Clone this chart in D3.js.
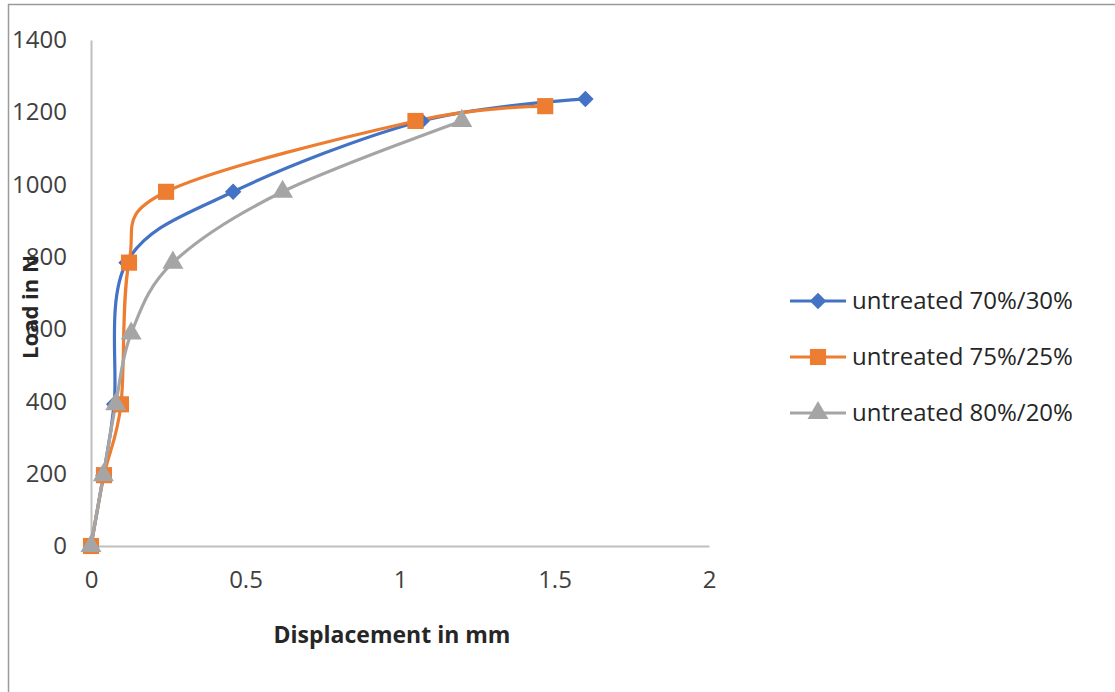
<!DOCTYPE html>
<meta charset="utf-8">
<script src="https://d3js.org/d3.v7.min.js"></script>
<style>
  body { margin: 0; background: #fff; }
  text { font-family: "Open Sans", "Noto Sans", sans-serif; }
</style>
<div id="my_dataviz"></div>
<script>

// series data (displacement in mm, load in N)
var names = ["untreated 70%/30%", "untreated 75%/25%", "untreated 80%/20%"];
var colors = ["#4472C4", "#ED7D31", "#A5A5A5"];
var shapes = [d3.symbolSquare, d3.symbolSquare, d3.symbolTriangle];
var rotations = [45, 0, 0];

var disp7030 = [0, 0.04, 0.075, 0.115, 0.46, 1.07, 1.6];
var load7030 = [0, 196, 392, 784, 980, 1176, 1237];

var disp7525 = [0, 0.042, 0.097, 0.123, 0.243, 1.05, 1.47];
var load7525 = [0, 196, 392, 784, 980, 1176, 1217];

var disp8020 = [0, 0.04, 0.08, 0.13, 0.265, 0.62, 1.2];
var load8020 = [0, 196, 392, 588, 784, 980, 1176];

var xTicks = [0, 0.5, 1, 1.5, 2];
var yTicks = [0, 200, 400, 600, 800, 1000, 1200, 1400];

var series = [
  {name: names[0], xs: disp7030, ys: load7030},
  {name: names[1], xs: disp7525, ys: load7525},
  {name: names[2], xs: disp8020, ys: load8020}
];

var W = 1115, H = 692;
var margin = {top: 40, left: 91},
    width = 618,
    height = 506;

var svg = d3.select("#my_dataviz")
  .append("svg")
    .attr("width", W)
    .attr("height", H);

// outer frame
svg.append("line").attr("x1", 8.5).attr("x2", 8.5).attr("y1", 4).attr("y2", H)
  .style("stroke", "#9a9a9a").style("stroke-width", 1.5);
svg.append("line").attr("x1", 8).attr("x2", W).attr("y1", 4.5).attr("y2", 4.5)
  .style("stroke", "#9a9a9a").style("stroke-width", 1.5);

var g = svg.append("g")
  .attr("transform", "translate(" + margin.left + "," + margin.top + ")");

var x = d3.scaleLinear().domain([0, 2]).range([0, width]);
var y = d3.scaleLinear().domain([0, 1400]).range([height, 0]);

// X axis
var xAxis = g.append("g")
  .attr("transform", "translate(0," + height + ")")
  .call(d3.axisBottom(x).tickValues(xTicks).tickSize(0).tickPadding(25)
    .tickFormat(function(d) { return String(d); }));
xAxis.select(".domain").style("stroke", "#bfbfbf").style("stroke-width", 2);
xAxis.selectAll("text").style("font-size", "24px").style("fill", "#404040")
  .style("font-family", "'Open Sans', sans-serif");

// Y axis
var yAxis = g.append("g")
  .call(d3.axisLeft(y).tickValues(yTicks).tickSize(0).tickPadding(24)
    .tickFormat(function(d) { return String(d); }));
yAxis.select(".domain").style("stroke", "#bfbfbf").style("stroke-width", 2);
yAxis.selectAll("text").style("font-size", "24px").style("fill", "#404040")
  .style("font-family", "'Open Sans', sans-serif");

// axis titles
svg.append("text")
  .attr("x", 392)
  .attr("y", 643)
  .attr("text-anchor", "middle")
  .style("font-size", "23px")
  .style("font-weight", "bold")
  .style("fill", "#262626")
  .text("Displacement in mm");

svg.append("text")
  .attr("transform", "translate(38,307) rotate(-90)")
  .attr("text-anchor", "middle")
  .style("font-size", "22px")
  .style("font-weight", "bold")
  .style("fill", "#262626")
  .text("Load in N");

// lines
var line = d3.line()
  .x(function(d) { return x(d[0]); })
  .y(function(d) { return y(d[1]); })
  .curve(d3.curveCatmullRom.alpha(0));

series.forEach(function(s, i) {
  var pts = s.xs.map(function(v, j) { return [v, s.ys[j]]; });
  g.append("path")
    .datum(pts)
    .attr("d", line)
    .style("fill", "none")
    .style("stroke", colors[i])
    .style("stroke-width", 3.2);
});

// markers
var sizes = [135, 260, 190];
series.forEach(function(s, i) {
  var pts = s.xs.map(function(v, j) { return [v, s.ys[j]]; });
  g.append("g")
    .selectAll("path")
    .data(pts)
    .enter()
    .append("path")
      .attr("d", d3.symbol().type(shapes[i]).size(sizes[i]))
      .attr("transform", function(d) {
        return "translate(" + x(d[0]) + "," + y(d[1]) + ") rotate(" + rotations[i] + ")";
      })
      .style("fill", colors[i]);
});

// legend
var legend = svg.append("g").attr("transform", "translate(790,301)");
names.forEach(function(n, i) {
  var row = legend.append("g").attr("transform", "translate(0," + (i * 56) + ")");
  row.append("line").attr("x1", 0).attr("x2", 56).attr("y1", 0).attr("y2", 0)
    .style("stroke", colors[i]).style("stroke-width", 3.2);
  row.append("path")
    .attr("d", d3.symbol().type(shapes[i]).size(sizes[i]))
    .attr("transform", "translate(28,0) rotate(" + rotations[i] + ")")
    .style("fill", colors[i]);
  row.append("text")
    .attr("x", 62)
    .attr("y", 0)
    .attr("dy", "0.35em")
    .style("font-size", "24px")
    .style("fill", "#262626")
    .text(n);
});

</script>
